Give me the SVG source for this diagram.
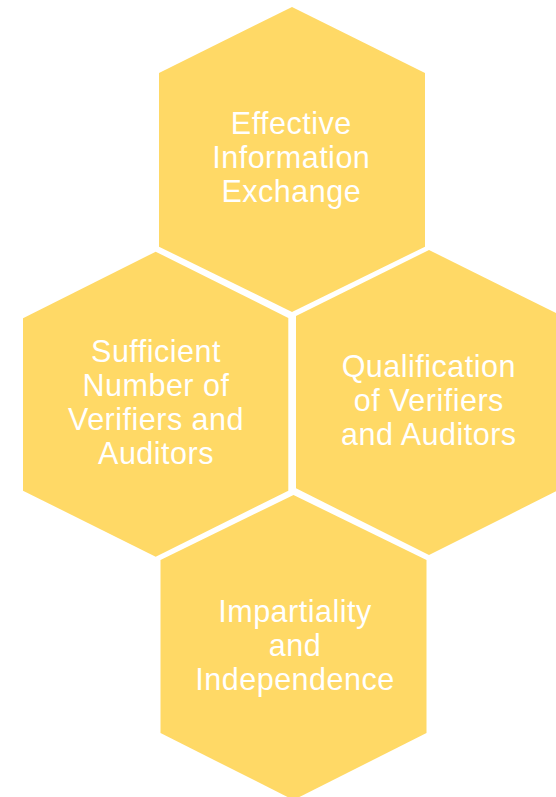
<svg xmlns="http://www.w3.org/2000/svg" width="556" height="797" viewBox="0 0 556 797">
<style>
.hex{fill:#FFD966;stroke:none}
.lbl{font-family:"Liberation Sans",Arial,sans-serif;font-size:30.5px;letter-spacing:0.5px;fill:#FFFFFF;text-anchor:middle}
</style>
<rect width="556" height="797" fill="#FFFFFF"/>
<g id="connectors"></g>
<g id="node-top">
<polygon class="hex" points="292,7 425,73 425,246.7 292,312 159,246.7 159,73"/>
<text class="lbl"><tspan x="291.3" y="133.5">Effective</tspan><tspan x="291.3" y="168">Information</tspan><tspan x="291.3" y="202">Exchange</tspan></text>
</g>
<g id="node-left">
<polygon class="hex" points="155.7,251.7 288.3,318 288.3,490.7 155.7,556.7 23,490.7 23,318.3"/>
<text class="lbl"><tspan x="156" y="361.7">Sufficient</tspan><tspan x="156" y="395.5">Number of</tspan><tspan x="156" y="430">Verifiers and</tspan><tspan x="156" y="463.5">Auditors</tspan></text>
</g>
<g id="node-right">
<polygon class="hex" points="429,250 562,316 562,488.3 429,555 296,488.3 296,316"/>
<text class="lbl"><tspan x="428.8" y="376.7">Qualification</tspan><tspan x="428.8" y="410.5">of Verifiers</tspan><tspan x="428.8" y="444.5">and Auditors</tspan></text>
</g>
<g id="node-bottom">
<polygon class="hex" points="293.5,495 426.5,560 426.5,733 293.5,800 160.5,733 160.5,560"/>
<text class="lbl"><tspan x="295" y="621.7">Impartiality</tspan><tspan x="295" y="656">and</tspan><tspan x="295" y="690">Independence</tspan></text>
</g>
</svg>
